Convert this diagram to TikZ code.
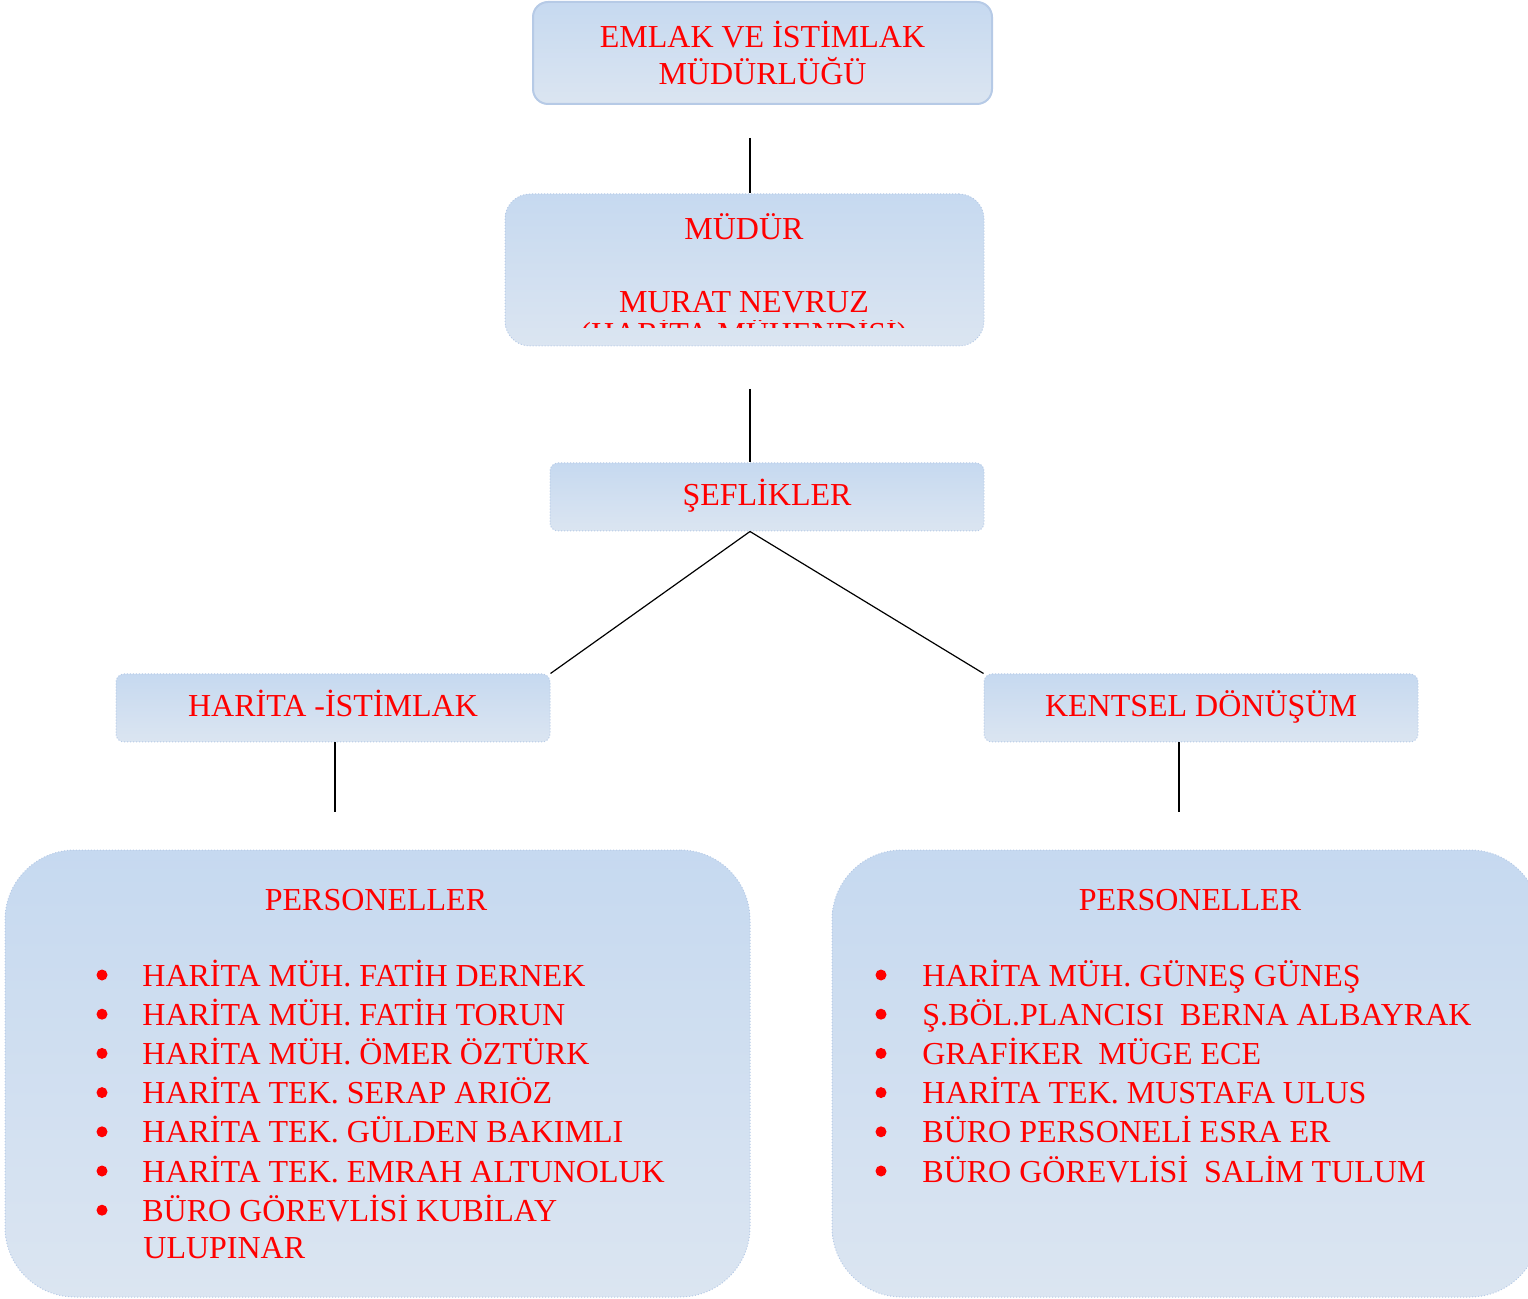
\documentclass[tikz,border=0pt]{standalone}
\usepackage{fontspec}
\setmainfont{Liberation Serif}
\definecolor{boxtop}{RGB}{198,217,240}
\definecolor{boxbot}{RGB}{219,229,241}
\definecolor{boxline}{RGB}{182,202,230}
\tikzset{
  unit/.style={rounded corners=#1, top color=boxtop, bottom color=boxbot, draw=boxline, densely dotted, line width=0.5pt},
  lbl/.style={text=red, font=\fontsize{16}{18.5}\selectfont},
  bar/.style={unit=4pt, minimum width=217pt, minimum height=34pt, lbl, text height=11.5pt, text depth=2.8pt},
  link/.style={draw=black, line width=0.6pt},
}

\begin{document}
\begin{tikzpicture}[x=0.5pt, y=-0.5pt]
    \clip (0,0) rectangle (1528,1299);
    \node [unit=7.5pt, solid, line width=1pt, minimum width=229.5pt, minimum height=51pt, lbl, align=center] (emlak) at (762.5,53) {EMLAK VE İSTİMLAK\\MÜDÜRLÜĞÜ};
    \node [unit=12.5pt, minimum width=239.5pt, minimum height=76pt] (mudur) at (744.5,270) {};
    \node [lbl, anchor=base] (mtitle) at (744,240) {MÜDÜR};
    \node [lbl, anchor=base] (mname) at (744,313) {MURAT NEVRUZ};
    \begin{scope}
        \clip (560,321) rectangle (930,328);
        \node [lbl, anchor=base, inner sep=0pt] (mjob) at (744,345) {(HARİTA MÜHENDİSİ)};
    \end{scope}
    \node [bar] (sef) at (767,497) {ŞEFLİKLER};
    \node [bar] (harita) at (333,708) {HARİTA -İSTİMLAK};
    \node [bar] (kentsel) at (1201,708) {KENTSEL DÖNÜŞÜM};
    \node [unit=35pt, minimum width=372.5pt, minimum height=223.5pt] (persL) at (377.5,1073.5) {};
    \node [unit=35pt, minimum width=354pt, minimum height=223.5pt] (persR) at (1186,1073.5) {};

    \coordinate (c1) at (750,138);
    \coordinate (c2) at (750,389);
    \coordinate (c3) at (335,812);
    \coordinate (c4) at (1179,812);
    \draw [link] (c1) -- (c1 |- mudur.north);
    \draw [link] (c2) -- (c2 |- sef.north);
    \draw [link] (sef.south -| c2) -- (harita.north east);
    \draw [link] (sef.south -| c2) -- (kentsel.north west);
    \draw [link] (harita.south -| c3) -- (c3);
    \draw [link] (kentsel.south -| c4) -- (c4);

    \node [lbl, anchor=base] (pL) at (376,910) {PERSONELLER};
    \node [lbl, anchor=base] (pR) at (1190,910) {PERSONELLER};
    \foreach \who [count=\k from 0] in {HARİTA MÜH. FATİH DERNEK, HARİTA MÜH. FATİH TORUN, HARİTA MÜH. ÖMER ÖZTÜRK, HARİTA TEK. SERAP ARIÖZ, HARİTA TEK. GÜLDEN BAKIMLI, HARİTA TEK. EMRAH ALTUNOLUK, BÜRO GÖREVLİSİ KUBİLAY} {
        \node [lbl, anchor=base west, inner sep=0pt] (l\k) at (142,986+39.2*\k) {\who};
        \fill [red] (102,975+39.2*\k) circle (2.75pt);
    }
    \node [lbl, anchor=base west, inner sep=0pt] (l7) at (143,1258) {ULUPINAR};
    \foreach \who [count=\k from 0] in {HARİTA MÜH. GÜNEŞ GÜNEŞ, Ş.BÖL.PLANCISI\ \ BERNA ALBAYRAK, GRAFİKER\ \ MÜGE ECE, HARİTA TEK. MUSTAFA ULUS, BÜRO PERSONELİ ESRA ER, BÜRO GÖREVLİSİ\ \ SALİM TULUM} {
        \node [lbl, anchor=base west, inner sep=0pt] (r\k) at (922,986+39.2*\k) {\who};
        \fill [red] (881,975+39.2*\k) circle (2.75pt);
    }
\end{tikzpicture}
\end{document}
